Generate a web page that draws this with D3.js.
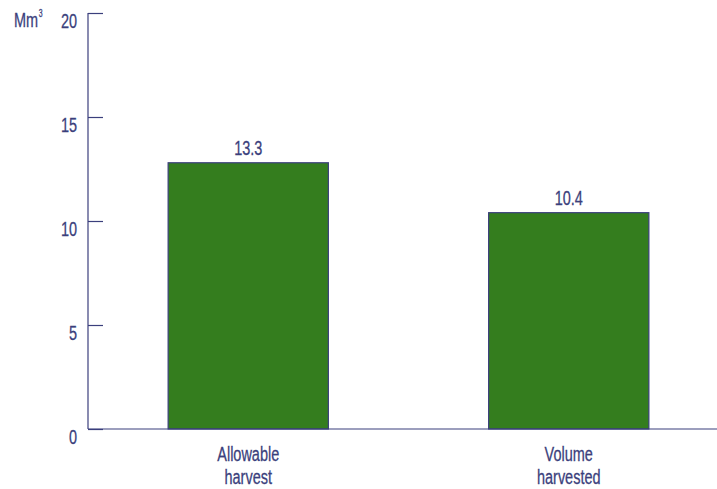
<!DOCTYPE html>
<html><head><meta charset="utf-8">
<script src="https://cdn.jsdelivr.net/npm/d3@7"></script>
<style>
body{margin:0;background:#fff;}
text{font-family:"Liberation Sans",sans-serif;fill:#3b3f7c;stroke:#3b3f7c;stroke-width:0.3px;}
</style></head>
<body><svg id="c" width="717" height="489"></svg>
<script>
const categories = [["Allowable","harvest"],["Volume","harvested"]];
const barValues = [12.8, 10.4];
const valueLabels = ["13.3", "10.4"];
const yTicks = [0, 5, 10, 15, 20];

const svg = d3.select("#c");
const ink = "#3b3f7c";
const SX = 0.69;
const FS = 21;
const y = d3.scaleLinear().domain([0, 20]).range([429, 13]);
const x = d3.scaleBand().domain(d3.range(categories.length)).range([88, 729]).paddingInner(0.5).paddingOuter(0.25);

function label(px, py, str, anchor, size){
  return svg.append("text").attr("transform",`translate(${px},${py}) scale(${SX},1)`)
    .attr("text-anchor",anchor).attr("font-size",size||FS).text(str);
}

// y axis
const ya = svg.append("g").attr("transform","translate(88,0)")
  .call(d3.axisRight(y).tickValues(yTicks).tickSize(15).tickFormat(""));
ya.select(".domain").remove();
ya.selectAll("line").attr("stroke", ink).attr("stroke-width",1.2);
svg.append("line").attr("x1",88).attr("x2",88).attr("y1",y(20)).attr("y2",y(0)).attr("stroke",ink).attr("stroke-width",1.2);
yTicks.forEach(d=>label(77, y(d)+15, d, "end"));

// unit label
const u = label(14, 27, "", "start");
u.append("tspan").text("Mm");
u.append("tspan").attr("font-size",10).attr("dy",-10).attr("dx",1).text("3");

// bars
svg.selectAll("rect.bar").data(barValues).enter().append("rect").attr("class","bar")
  .attr("x",(d,i)=>x(i)).attr("width",x.bandwidth())
  .attr("y",d=>y(d)).attr("height",d=>y(0)-y(d))
  .attr("fill","#347d1e").attr("stroke",ink).attr("stroke-width",1.2);

// x axis line
svg.append("line").attr("x1",88).attr("x2",717).attr("y1",y(0)).attr("y2",y(0)).attr("stroke",ink).attr("stroke-width",1.2);

// value labels
valueLabels.forEach((t,i)=>label(x(i)+x.bandwidth()/2, y(barValues[i])-8, t, "middle"));

// category labels
categories.forEach((lines,i)=>{
  lines.forEach((t,j)=>label(x(i)+x.bandwidth()/2, 461+j*23, t, "middle"));
});
</script></body></html>
